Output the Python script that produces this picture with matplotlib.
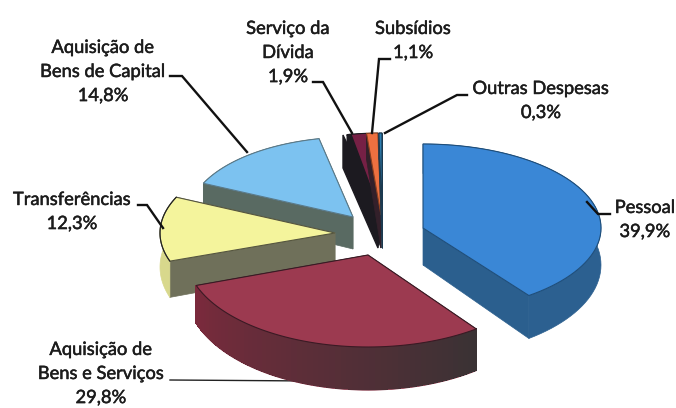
import numpy as np
import matplotlib
matplotlib.use("Agg")
import matplotlib.pyplot as plt
import matplotlib.patheffects as pe
from matplotlib.collections import PolyCollection
from matplotlib.colors import to_rgb

plt.rcParams["font.family"] = ["Lato", "DejaVu Sans"]

# values, clockwise from 12 o'clock
names = ["Pessoal", "Bens e Serviços", "Transferências", "Bens de Capital",
         "Serviço da Dívida", "Subsídios", "Outras Despesas"]
values = [39.9, 29.8, 12.3, 14.8, 1.9, 1.1, 0.3]

# exploded position and size of each slice, in pixels
centres = [(423, 228), (368, 255), (335, 233), (353, 217), (381, 215), (381, 215), (382, 215)]
radii = [(178, 84), (182, 92), (175, 85), (165, 80), (165, 82), (165, 82), (165, 82)]
depths = [37, 36, 34, 32, 33, 33, 33]

top_colors = ["#3A87D6", "#9C3A50", "#F4F49C", "#7CC2F0", "#762045", "#EE7040", "#2E7FB2"]
cut_colors = ["#2B5F8E", "#3A3234", "#6F705A", "#596A62", "#1C1A20", "#33202A", "#1C3A50"]
wall_start = ["#2C6090", "#3A3234", "#D8D88C", "#596A62", "#1C1A20", "#33202A", "#1C3A50"]
wall_end = ["#2C6090", "#7A2A3C", "#D8D88C", "#596A62", "#1C1A20", "#33202A", "#1C3A50"]
edge_colors = ["#1F4E7A", "#3A1A24", "#55553F", "#5A7A8A", "#1C1A20", "#8A4020", "#1C3A50"]
draw_order = [4, 5, 6, 3, 2, 1, 0]

labels = [
    ("Serviço da\nDívida\n1,9%", 288, 53),
    ("Subsídios\n1,1%", 413, 41),
    ("Outras Despesas\n0,3%", 541, 101),
    ("Aquisição de\nBens de Capital\n14,8%", 103, 72),
    ("Transferências\n12,3%", 72, 212),
    ("Pessoal\n39,9%", 645, 220),
    ("Aquisição de\nBens e Serviços\n29,8%", 101, 374),
]
leaders = [
    ([313, 323, 352], [82, 82, 133]),
    ([390, 379, 372], [59, 59, 133]),
    ([467, 457, 385], [95, 95, 133]),
    ([170, 182, 247], [76, 76, 152]),
    ([138, 147, 163], [205, 205, 228]),
    ([610, 598, 587], [214, 214, 202]),
]

fig = plt.figure(figsize=(6.76, 4.08), dpi=100)
ax = fig.add_axes([0, 0, 1, 1])
ax.set_xlim(0, 676)
ax.set_ylim(408, 0)
ax.axis("off")

edges = np.radians(np.concatenate([[0], np.cumsum(values)]) / sum(values) * 360)


def rim(theta, centre, radius):
    return centre[0] + radius[0] * np.sin(theta), centre[1] - radius[1] * np.cos(theta)


def drop(theta, depth):
    # nearer part of the pie looks a bit thicker
    return depth * (1 - 0.2 * np.cos(theta))


def draw_slice(i):
    z = 2 + draw_order.index(i)
    c, r, d = centres[i], radii[i], depths[i]
    theta = np.linspace(edges[i], edges[i + 1], 60)
    x, y = rim(theta, c, r)
    low = y + drop(theta, d)

    # flat cut faces
    for k in (0, -1):
        ax.fill([c[0], x[k], x[k], c[0]], [c[1], y[k], low[k], c[1] + d],
                color=cut_colors[i], lw=0.5, zorder=z)

    # outer wall: solid underlay for a clean edge, then colour running along the arc
    ax.fill(np.r_[x, x[::-1]], np.r_[y, low[::-1]], color=wall_end[i], lw=0.5, zorder=z)
    a, b = np.array(to_rgb(wall_start[i])), np.array(to_rgb(wall_end[i]))
    if wall_start[i] != wall_end[i]:
        quads, cols = [], []
        for k in range(len(theta) - 1):
            quads.append([(x[k], y[k]), (x[k + 1], y[k + 1]), (x[k + 1], low[k + 1] - 1), (x[k], low[k] - 1)])
            cols.append(tuple(a + (b - a) * k / (len(theta) - 2)))
        ax.add_collection(PolyCollection(quads, facecolors=cols, edgecolors=cols, lw=0.6,
                                         antialiaseds=False, zorder=z))

    # top face
    ax.fill(np.r_[c[0], x], np.r_[c[1], y], facecolor=top_colors[i],
            edgecolor=edge_colors[i], lw=0.8, zorder=z + 0.5)
    return z


zs = {i: draw_slice(i) for i in draw_order}

# shaded left part of the debt slice
th = np.linspace(edges[4], edges[4] + (edges[5] - edges[4]) * 0.2, 10)
sx, sy = rim(th, centres[4], radii[4])
ax.fill(np.r_[centres[4][0], sx], np.r_[centres[4][1], sy], color="#1C1A20", zorder=zs[4] + 0.6)
ax.fill([343, 343, 378, 381], [135, 168, 248, 215], color="#1C1A20", zorder=zs[4] - 0.1)

# thin outline round the yellow slice
th = np.linspace(edges[2], edges[3], 40)
ox, oy = rim(th, centres[2], radii[2])
ax.plot(ox, oy, color="#222222", lw=0.8, zorder=20)

for lx, ly in leaders:
    ax.plot(lx, ly, color="#111111", lw=1.7, solid_joinstyle="miter", zorder=21)
ax.plot([170, 312], [380, 381], color="#222222", lw=1.0, zorder=1)

for text, x, y in labels:
    ax.text(x, y, text, ha="center", va="center", fontsize=13.2, color="#1c1c1c",
            linespacing=1.62, zorder=22,
            path_effects=[pe.withStroke(linewidth=0.35, foreground="#1c1c1c")])

fig.savefig("out.png", dpi=100)
plt.close(fig)
